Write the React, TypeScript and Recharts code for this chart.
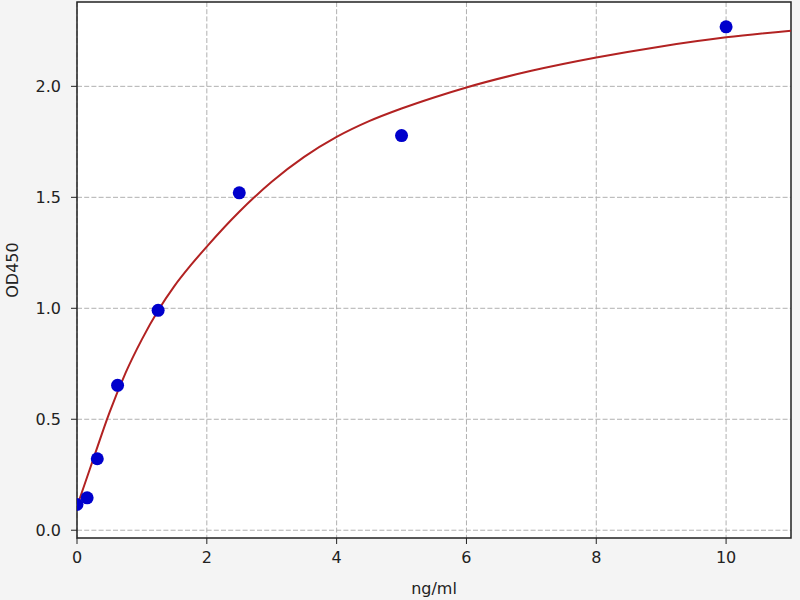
import React from 'react';
import { ComposedChart, Line, Scatter, XAxis, YAxis, CartesianGrid, ReferenceArea } from 'recharts';

const pointX = [0, 0.156, 0.3125, 0.625, 1.25, 2.5, 5, 10];
const pointY = [0.116, 0.146, 0.322, 0.653, 0.991, 1.52, 1.778, 2.268];

const curveX = [0, 0.25, 0.5, 0.75, 1, 1.25, 1.5, 1.75, 2, 2.5, 3, 3.5, 4, 4.5, 5, 5.5, 6, 7, 8, 9, 10, 11];
const curveY = [0.107, 0.32, 0.53, 0.71, 0.86, 0.99, 1.1, 1.193, 1.278, 1.435, 1.57, 1.682, 1.772, 1.843, 1.9, 1.95, 1.995, 2.07, 2.13, 2.18, 2.221, 2.251];

const xTicks = [0, 2, 4, 6, 8, 10];
const yTicks = [0, 0.5, 1, 1.5, 2];

const points = pointX.map((x, i) => ({ x, y: pointY[i] }));
const curve = curveX.map((x, i) => ({ x, y: curveY[i] }));

const FONT = 'DejaVu Sans, sans-serif';
const tickStyle = { fontFamily: FONT, fontSize: 16, fill: '#222' };

export default function App() {
  return (
    <div style={{ position: 'absolute', left: 0, top: 0, width: 800, height: 600, background: '#f4f4f4' }}>
      <ComposedChart width={800} height={600} margin={{ top: 2, right: 9, left: 0, bottom: 0 }}>
        <CartesianGrid
          stroke="#b0b0b0"
          strokeDasharray="5 2.2"
          fill="#ffffff"
          fillOpacity={1}
          verticalValues={xTicks}
          horizontalValues={yTicks}
        />
        <XAxis
          dataKey="x"
          type="number"
          domain={[0, 11]}
          ticks={xTicks}
          allowDataOverflow
          height={62}
          tickSize={6}
          tickMargin={8}
          stroke="#222"
          tick={tickStyle}
          axisLine={false}
          label={{
            content: (props: any) => {
              const vb = props.viewBox || {};
              return (
                <text x={vb.x + vb.width / 2} y={594} textAnchor="middle" fontFamily={FONT} fontSize={16} fill="#222">
                  ng/ml
                </text>
              );
            },
          }}
        />
        <YAxis
          dataKey="y"
          type="number"
          domain={[-0.035, 2.38]}
          ticks={yTicks}
          allowDataOverflow
          width={77}
          tickSize={6}
          tickMargin={10}
          stroke="#222"
          tick={tickStyle}
          axisLine={false}
          tickFormatter={(v: number) => v.toFixed(1)}
          label={{
            content: (props: any) => {
              const vb = props.viewBox || {};
              const cy = vb.y + vb.height / 2;
              return (
                <text
                  x={18}
                  y={cy}
                  textAnchor="middle"
                  transform={`rotate(-90, 18, ${cy})`}
                  fontFamily={FONT}
                  fontSize={16}
                  fill="#222"
                >
                  OD450
                </text>
              );
            },
          }}
        />
        <Line
          data={curve}
          dataKey="y"
          type="monotone"
          stroke="#b22222"
          strokeWidth={2}
          dot={false}
          activeDot={false}
          isAnimationActive={false}
        />
        <Scatter
          data={points}
          dataKey="y"
          fill="#0000cc"
          isAnimationActive={false}
          shape={(p: any) => <circle cx={p.cx} cy={p.cy} r={6.5} fill="#0000cc" />}
        />
        <ReferenceArea x1={0} x2={11} y1={-0.035} y2={2.38} fill="none" stroke="#222" strokeWidth={1.5} ifOverflow="visible" />
      </ComposedChart>
    </div>
  );
}
